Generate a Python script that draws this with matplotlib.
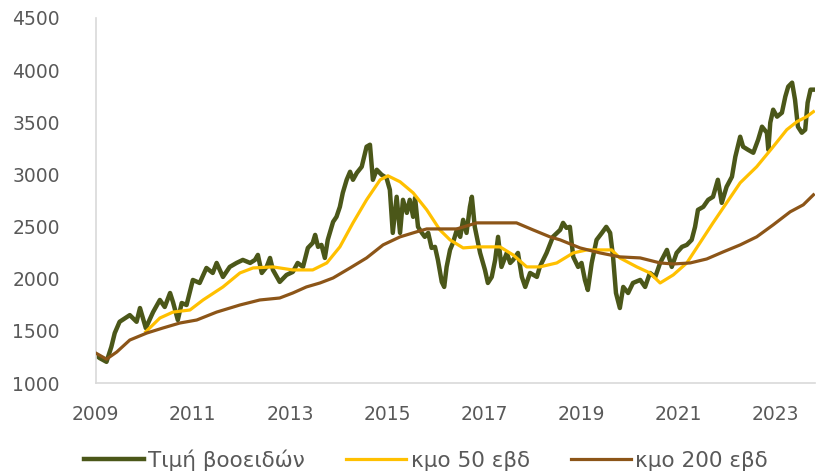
"""Cattle price with 50- and 200-week moving averages."""

import matplotlib
matplotlib.use('Agg')
import matplotlib.pyplot as plt

# Price (decimal year, value)
price_year = [
    2009.00, 2009.08, 2009.22, 2009.32, 2009.39, 2009.49, 2009.70, 2009.84, 2009.91,
    2010.03, 2010.18, 2010.32, 2010.42, 2010.53, 2010.59, 2010.69, 2010.77, 2010.87,
    2011.00, 2011.14, 2011.28, 2011.41, 2011.49, 2011.62, 2011.76, 2011.90,
    2012.03, 2012.18, 2012.28, 2012.34, 2012.42, 2012.52, 2012.59, 2012.65, 2012.79, 2012.93,
    2013.06, 2013.16, 2013.27, 2013.37, 2013.47, 2013.52, 2013.58, 2013.65, 2013.72, 2013.78,
    2013.89, 2013.96, 2014.03, 2014.09, 2014.17, 2014.24, 2014.30, 2014.38, 2014.48, 2014.58,
    2014.65, 2014.71, 2014.79, 2014.89, 2014.99, 2015.06, 2015.12, 2015.20, 2015.27, 2015.33,
    2015.41, 2015.47, 2015.54, 2015.58, 2015.64, 2015.72, 2015.78, 2015.85, 2015.92, 2015.99,
    2016.05, 2016.13, 2016.18, 2016.23, 2016.30, 2016.36, 2016.44, 2016.51, 2016.57, 2016.64,
    2016.71, 2016.75, 2016.81, 2016.92, 2017.02, 2017.08, 2017.16, 2017.23, 2017.29, 2017.36,
    2017.47, 2017.54, 2017.60, 2017.70, 2017.78, 2017.85, 2017.95, 2018.09, 2018.15, 2018.29,
    2018.42, 2018.57, 2018.63, 2018.70, 2018.77, 2018.84, 2018.94, 2019.01, 2019.08, 2019.14,
    2019.22, 2019.32, 2019.43, 2019.52, 2019.60, 2019.66, 2019.72, 2019.80, 2019.87, 2019.97,
    2020.07, 2020.22, 2020.32, 2020.42, 2020.53, 2020.63, 2020.77, 2020.87, 2020.97, 2021.08,
    2021.18, 2021.28, 2021.35, 2021.41, 2021.52, 2021.62, 2021.72, 2021.82, 2021.90, 2022.00,
    2022.11, 2022.18, 2022.28, 2022.34, 2022.44, 2022.55, 2022.65, 2022.73, 2022.83, 2022.86,
    2022.90, 2022.96, 2023.04, 2023.14, 2023.21, 2023.27, 2023.35, 2023.41, 2023.47, 2023.55,
    2023.62, 2023.67, 2023.73, 2023.79,
]
price = [
    1269, 1240, 1204, 1348, 1480, 1588, 1652, 1588, 1720,
    1528, 1681, 1797, 1730, 1864, 1778, 1605, 1768, 1749,
    1989, 1960, 2104, 2056, 2152, 2018, 2114, 2152,
    2181, 2152, 2181, 2229, 2056, 2114, 2200, 2085, 1970, 2037,
    2066, 2152, 2114, 2296, 2344, 2421, 2306, 2325, 2200, 2373,
    2546, 2594, 2690, 2824, 2949, 3026, 2949, 3016, 3074, 3266,
    3285, 2949, 3045, 2997, 2968, 2853, 2440, 2786, 2440, 2757,
    2632, 2757, 2594, 2776, 2498, 2440, 2402, 2440, 2296, 2306,
    2181, 1970, 1922, 2114, 2277, 2344, 2469, 2402, 2565, 2440,
    2690, 2786, 2498, 2248, 2085, 1960, 2018, 2181, 2402, 2114,
    2248, 2152, 2181, 2248, 2018, 1922, 2056, 2018, 2114, 2248,
    2402, 2469, 2536, 2488, 2498, 2210, 2114, 2152, 1989, 1893,
    2152, 2373, 2440, 2498, 2440, 2210, 1864, 1720, 1922, 1864,
    1960, 1989, 1922, 2056, 2018, 2152, 2277, 2114, 2248, 2306,
    2325, 2373, 2498, 2661, 2690, 2757, 2786, 2949, 2728, 2882,
    2978, 3170, 3362, 3266, 3237, 3208, 3333, 3458, 3400, 3237,
    3496, 3621, 3554, 3592, 3746, 3842, 3880, 3717, 3458, 3400,
    3429, 3688, 3813, 3813,
]

ma50_year = [
    2010.03, 2010.32, 2010.59, 2010.94, 2011.21, 2011.62, 2011.97, 2012.24, 2012.65,
    2013.06, 2013.47, 2013.76, 2014.03, 2014.30, 2014.58, 2014.86, 2015.02, 2015.27,
    2015.54, 2015.82, 2016.09, 2016.30, 2016.57, 2016.85, 2017.06, 2017.33, 2017.60,
    2017.88, 2018.15, 2018.50, 2018.84, 2019.12, 2019.63, 2019.80, 2020.15, 2020.42,
    2020.63, 2020.90, 2021.18, 2021.45, 2021.72, 2022.00, 2022.28, 2022.62, 2022.96,
    2023.24, 2023.45, 2023.65, 2023.79,
]
ma50 = [
    1492, 1624, 1681, 1701, 1797, 1922, 2056, 2104, 2114,
    2085, 2085, 2152, 2306, 2536, 2757, 2949, 2987, 2930,
    2824, 2661, 2469, 2373, 2296, 2306, 2306, 2306, 2229,
    2114, 2114, 2152, 2248, 2277, 2277, 2200, 2114, 2056,
    1960, 2037, 2152, 2344, 2536, 2728, 2920, 3074, 3266,
    3429, 3506, 3554, 3602,
]

ma200_year = [
    2009.00, 2009.22, 2009.43, 2009.70, 2010.05, 2010.38, 2010.73, 2011.08, 2011.49,
    2011.97, 2012.38, 2012.79, 2013.06, 2013.34, 2013.62, 2013.89, 2014.24, 2014.58,
    2014.92, 2015.27, 2015.61, 2015.82, 2016.44, 2016.85, 2017.33, 2017.67, 2018.01,
    2018.36, 2018.57, 2018.98, 2019.39, 2019.80, 2020.22, 2020.63, 2020.90, 2021.25,
    2021.59, 2021.93, 2022.28, 2022.62, 2022.96, 2023.31, 2023.58, 2023.79,
]
ma200 = [
    1288, 1230, 1298, 1413, 1480, 1528, 1576, 1605, 1681,
    1749, 1797, 1816, 1864, 1922, 1960, 2008, 2104, 2200,
    2325, 2402, 2450, 2478, 2478, 2536, 2536, 2536, 2469,
    2402, 2373, 2296, 2248, 2210, 2200, 2152, 2142, 2152,
    2190, 2258, 2325, 2402, 2517, 2642, 2709, 2805,
]

series_labels = ['Τιμή βοοειδών', 'κμο 50 εβδ', 'κμο 200 εβδ']
x_ticks = [2009, 2011, 2013, 2015, 2017, 2019, 2021, 2023]
y_ticks = [1000, 1500, 2000, 2500, 3000, 3500, 4000, 4500]

TEXT = '#595959'
AXIS = '#D9D9D9'

plt.rcParams['font.family'] = ['DejaVu Sans']

fig = plt.figure(figsize=(8.19, 4.73), dpi=100)
ax = fig.add_axes([0.117, 0.19, 0.878, 0.772])

ax.plot(price_year, price, color='#4B5719', lw=3.2, label=series_labels[0],
        solid_joinstyle='round', zorder=2)
ax.plot(ma50_year, ma50, color='#FFC000', lw=2.3, label=series_labels[1], zorder=3)
ax.plot(ma200_year, ma200, color='#8C5518', lw=2.3, label=series_labels[2], zorder=4)

ax.set_xlim(2009, 2023.82)
ax.set_ylim(1000, 4500)
ax.set_xticks(x_ticks)
ax.set_xticklabels([str(t) for t in x_ticks])
ax.set_yticks(y_ticks)
ax.tick_params(length=0, labelsize=13.5, labelcolor=TEXT)
ax.tick_params(axis='x', pad=16)
ax.tick_params(axis='y', pad=26)

for side in ('top', 'right'):
    ax.spines[side].set_visible(False)
for side in ('left', 'bottom'):
    ax.spines[side].set_color(AXIS)
    ax.spines[side].set_linewidth(1.2)

leg = fig.legend(loc='center', bbox_to_anchor=(0.52, 0.028), ncol=3, frameon=False,
                 fontsize=15.5, handlelength=2.8, columnspacing=1.9, handletextpad=0.2)
for t in leg.get_texts():
    t.set_color(TEXT)

fig.savefig('out.png', dpi=100)
